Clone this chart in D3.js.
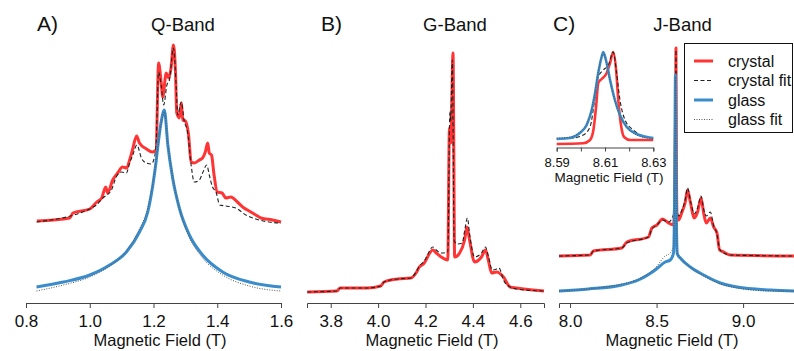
<!DOCTYPE html>
<html><head><meta charset="utf-8">
<script src="https://cdn.jsdelivr.net/npm/d3@7"></script>
<style>
body{margin:0;background:#fff}
svg{display:block}
text{font-family:"Liberation Sans",Arial,Helvetica,sans-serif;fill:#111}
</style>
</head><body>
<svg id="c" width="794" height="351"></svg>
<script>
// ---------- DATA (field in T, intensity in arbitrary units) ----------
// Panel A: Q-Band
const qCrystal = [[0.834,75],[0.9375,78],[0.947,83],[1.0,87],[1.022,94],[1.0375,98],[1.05,109],[1.056,103],[1.072,116],[1.0875,123],[1.103,129],[1.116,128],[1.125,136],[1.134,146],[1.147,160],[1.156,153],[1.178,147],[1.197,144],[1.208,146],[1.216,233],[1.224,214],[1.229,199],[1.24,223],[1.248,218],[1.255,228],[1.2625,251],[1.269,224],[1.273,183],[1.281,178],[1.287,193],[1.292,176],[1.30,175],[1.31,161],[1.318,134],[1.328,133],[1.344,136],[1.354,138],[1.3625,144],[1.37,153],[1.375,143],[1.382,141],[1.39,121],[1.40,104],[1.415,103],[1.427,98],[1.443,99],[1.463,94],[1.484,88],[1.50,85],[1.521,81],[1.537,78],[1.573,76],[1.6,74]];
const qCrystalFit = [[0.833,74],[1.005,88],[1.021,91],[1.041,98],[1.068,106],[1.083,119],[1.099,124],[1.115,123],[1.125,133],[1.135,141],[1.148,151],[1.162,138],[1.177,133],[1.193,132],[1.203,139],[1.208,151],[1.216,224],[1.224,211],[1.232,191],[1.242,211],[1.25,216],[1.2625,248],[1.271,211],[1.276,181],[1.287,194],[1.297,174],[1.307,164],[1.318,131],[1.328,114],[1.344,116],[1.354,123],[1.367,131],[1.375,121],[1.385,109],[1.396,104],[1.408,91],[1.427,90],[1.458,88],[1.49,81],[1.521,77],[1.5625,74],[1.6,73]];
const qGlass = [[0.833,9],[0.917,14],[1.0,21],[1.0625,31],[1.115,44],[1.156,64],[1.182,84],[1.198,111],[1.208,134],[1.213,148],[1.224,174],[1.234,186],[1.245,151],[1.26,118],[1.281,88],[1.3125,61],[1.354,41],[1.417,24],[1.5,14],[1.6,9]];
const qGlassFit = [[0.833,5],[0.917,11],[1.0,19],[1.0625,30],[1.115,45],[1.156,67],[1.182,88],[1.198,113],[1.213,148],[1.224,172],[1.234,184],[1.245,152],[1.26,120],[1.281,88],[1.3125,59],[1.354,38],[1.417,21],[1.5,10],[1.6,5]];
const qTicks = [0.8,1.0,1.2,1.4,1.6];

// Panel B: G-Band
const gCrystal = [[3.701,4],[3.826,5],[3.840,8],[3.954,8],[4.011,10],[4.025,14],[4.082,17],[4.138,18],[4.160,23],[4.174,29],[4.195,33],[4.202,36],[4.231,46],[4.245,43],[4.266,39],[4.294,36],[4.301,168],[4.307,153],[4.316,243],[4.323,39],[4.344,43],[4.365,56],[4.375,69],[4.386,56],[4.407,34],[4.436,39],[4.453,46],[4.465,36],[4.479,23],[4.50,24],[4.529,19],[4.557,9],[4.585,8],[4.70,5]];
const gCrystalFit = [[3.701,4],[3.826,5],[3.840,8],[3.954,8],[4.011,10],[4.025,14],[4.082,17],[4.138,18],[4.160,24],[4.174,30],[4.195,35],[4.202,38],[4.231,49],[4.245,46],[4.266,43],[4.294,44],[4.303,184],[4.306,175],[4.313,236],[4.321,55],[4.336,52],[4.355,53],[4.365,65],[4.377,78],[4.386,62],[4.407,39],[4.436,43],[4.453,49],[4.465,40],[4.482,26],[4.50,27],[4.51,28],[4.529,16],[4.557,9],[4.585,7],[4.70,5]];
const gTicks = [3.8,4.0,4.2,4.4,4.6];

// Panel C: J-Band
const jCrystal = [[7.936,40],[8.116,41],[8.135,45],[8.299,48],[8.328,54],[8.453,59],[8.473,68],[8.502,71],[8.534,77],[8.569,73],[8.598,71],[8.604,90],[8.607,140],[8.610,185],[8.612,248],[8.615,120],[8.618,82],[8.627,76],[8.647,84],[8.666,94],[8.679,106],[8.695,94],[8.718,78],[8.737,84],[8.757,98],[8.772,83],[8.787,73],[8.811,78],[8.830,69],[8.849,63],[8.864,46],[8.888,44],[8.926,41],[9.3,40]];
const jCrystalFit = [[7.936,40],[8.116,41],[8.135,45],[8.299,48],[8.328,53],[8.453,59],[8.473,67],[8.502,71],[8.534,76],[8.569,74],[8.590,78],[8.600,84],[8.605,110],[8.609,170],[8.612,246],[8.615,140],[8.618,90],[8.627,80],[8.647,86],[8.666,97],[8.679,108],[8.695,96],[8.718,82],[8.737,88],[8.757,100],[8.772,87],[8.787,80],[8.811,84],[8.830,70],[8.849,62],[8.864,47],[8.888,43],[8.926,41],[9.3,40]];
const jGlass = [[7.936,5],[8.106,7],[8.299,11],[8.395,16],[8.492,26],[8.550,34],[8.579,36],[8.598,43],[8.603,80],[8.606,150],[8.609,221],[8.612,150],[8.615,70],[8.620,42],[8.637,38],[8.695,29],[8.772,21],[8.869,13],[8.965,9],[9.158,6],[9.3,5]];
const jGlassFit = [[7.936,5],[8.106,7],[8.299,12],[8.395,17],[8.492,28],[8.550,40],[8.579,43],[8.598,50],[8.603,82],[8.606,150],[8.609,219],[8.612,150],[8.615,70],[8.620,43],[8.637,38],[8.695,29],[8.772,20],[8.869,12],[8.965,8],[9.158,5],[9.3,5]];
const jTicks = [8.0,8.5,9.0];

// Inset (J-Band, zoom on the central line)
const insetCrystal = [[8.590,4],[8.601,4.7],[8.6038,8],[8.6052,18],[8.6063,41],[8.6072,65],[8.6086,69],[8.6107,75],[8.6121,85],[8.6134,96],[8.6146,78],[8.6155,48],[8.6165,25],[8.6179,11],[8.6204,8],[8.63,8]];
const insetCrystalFit = [[8.590,9],[8.5969,10],[8.601,13],[8.6038,21],[8.6059,51],[8.6072,71],[8.6093,78],[8.6114,83],[8.6134,96],[8.6148,75],[8.6162,48],[8.6183,28],[8.6217,18],[8.6259,12],[8.63,10]];
const insetGlass = [[8.590,9],[8.5955,10],[8.5996,15],[8.6024,23],[8.6045,38],[8.6059,55],[8.6072,75],[8.6086,91],[8.6093,96],[8.6104,88],[8.6121,68],[8.6141,48],[8.6162,33],[8.619,21],[8.6231,14],[8.63,10]];
const insetGlassFit = [[8.590,10],[8.5955,11],[8.5996,16],[8.6024,24],[8.6045,39],[8.6059,56],[8.6072,76],[8.6086,91],[8.6093,95],[8.6104,87],[8.6121,67],[8.6141,47],[8.6162,32],[8.619,21],[8.6231,13],[8.63,9]];
const insetTicks = [8.59,8.60,8.61,8.62,8.63];
const insetTickLabels = ["8.59","","8.61","","8.63"];

const panelLabels = ["A)","B)","C)"];
const panelTitles = ["Q-Band","G-Band","J-Band"];
const axisTitle = "Magnetic Field (T)";
const legendLabels = ["crystal","crystal fit","glass","glass fit"];

// ---------- STYLE ----------
const RED = "#ff3535", BLUE = "#3a8ccb";
const styles = {
  crystal:    {stroke: RED,   width: 3,   dash: null},
  crystalFit: {stroke: "#222",width: 1.1, dash: "4,2.5"},
  glass:      {stroke: BLUE,  width: 3,   dash: null},
  glassFit:   {stroke: "#555",width: 1,   dash: "1,1.5"}
};

const svg = d3.select("#c");
const AXIS_Y = 303;
const yMain = d3.scaleLinear().domain([0, 256]).range([296, 40]);

function drawSeries(g, data, x, y, st) {
  const line = d3.line().x(d => x(d[0])).y(d => y(d[1])).curve(d3.curveMonotoneX);
  g.append("path").datum(data)
    .attr("d", line)
    .attr("fill", "none")
    .attr("stroke", st.stroke)
    .attr("stroke-width", st.width)
    .attr("stroke-linejoin", "round")
    .attr("stroke-dasharray", st.dash);
}

function drawAxis(x, ticks, fmt, center) {
  const ax = d3.axisBottom(x).tickValues(ticks).tickFormat(fmt)
    .tickSizeOuter(0).tickSize(5).tickPadding(7);
  const g = svg.append("g").attr("transform", `translate(0,${AXIS_Y})`).call(ax);
  g.select(".domain").attr("stroke", "#444");
  g.selectAll(".tick line").attr("stroke", "#444");
  g.selectAll(".tick text").attr("font-size", 17).attr("fill", "#111")
    .attr("font-family", '"Liberation Sans",Arial,sans-serif');
  svg.append("text").attr("x", center).attr("y", 346)
    .attr("text-anchor", "middle").attr("font-size", 16.5).text(axisTitle);
}

const panels = [
  {dom:[0.8,1.6], rng:[26,281], ticks:qTicks, fmt:d3.format(".1f"), center:160,
   labelX:37, titleX:183, series:[[qCrystal,"crystal"],[qCrystalFit,"crystalFit"],[qGlass,"glass"],[qGlassFit,"glassFit"]]},
  {dom:[3.7,4.7], rng:[307,544], ticks:gTicks, fmt:d3.format(".1f"), center:432,
   labelX:321, titleX:455, series:[[gCrystal,"crystal"],[gCrystalFit,"crystalFit"]]},
  {dom:[7.936,9.3], rng:[559,795], ticks:jTicks, fmt:d3.format(".1f"), center:672,
   labelX:553, titleX:682.5, series:[[jCrystal,"crystal"],[jCrystalFit,"crystalFit"],[jGlass,"glass"],[jGlassFit,"glassFit"]]}
];

panels.forEach((p, i) => {
  const x = d3.scaleLinear().domain(p.dom).range(p.rng);
  drawAxis(x, p.ticks, p.fmt, p.center);
  const g = svg.append("g");
  p.series.forEach(([data, key]) => drawSeries(g, data, x, yMain, styles[key]));
  svg.append("text").attr("x", p.labelX).attr("y", 31).attr("font-size", 21).text(panelLabels[i]);
  svg.append("text").attr("x", p.titleX).attr("y", 31).attr("text-anchor", "middle")
    .attr("font-size", 18.5).text(panelTitles[i]);
});

// ---------- INSET ----------
const xIn = d3.scaleLinear().domain([8.59, 8.63]).range([556.7, 653.3]);
const yIn = d3.scaleLinear().domain([0, 100]).range([148, 48]);
const INSET_Y = 147.5;
const gIn = svg.append("g");
[[insetCrystal,"crystal"],[insetCrystalFit,"crystalFit"],[insetGlass,"glass"],[insetGlassFit,"glassFit"]]
  .forEach(([data, key]) => drawSeries(gIn, data, xIn, yIn, Object.assign({}, styles[key], {width: key==="crystal"||key==="glass" ? 2.6 : styles[key].width})));
const axIn = d3.axisBottom(xIn).tickValues(insetTicks)
  .tickFormat((d, i) => insetTickLabels[i]).tickSizeOuter(0).tickSize(4).tickPadding(6);
const gAxIn = svg.append("g").attr("transform", `translate(0,${INSET_Y})`).call(axIn);
gAxIn.select(".domain").attr("stroke", "#444");
gAxIn.selectAll(".tick line").attr("stroke", "#444");
gAxIn.selectAll(".tick text").attr("font-size", 13).attr("fill", "#111")
  .attr("font-family", '"Liberation Sans",Arial,sans-serif');
svg.append("text").attr("x", 609).attr("y", 181.5).attr("text-anchor", "middle")
  .attr("font-size", 13.5).text(axisTitle);

// ---------- LEGEND ----------
const lg = svg.append("g");
lg.append("rect").attr("x", 684.5).attr("y", 43.5).attr("width", 108).attr("height", 89)
  .attr("fill", "#fff").attr("stroke", "#111").attr("stroke-width", 1);
const legendKeys = ["crystal","crystalFit","glass","glassFit"];
const legendRows = d3.scalePoint().domain(legendKeys).range([61, 119.5]);
legendKeys.forEach((k, i) => {
  const st = styles[k];
  const yy = legendRows(k);
  lg.append("line").attr("x1", 694).attr("x2", 713).attr("y1", yy).attr("y2", yy)
    .attr("stroke", st.stroke).attr("stroke-width", st.width).attr("stroke-dasharray", st.dash);
  lg.append("text").attr("x", 728).attr("y", yy).attr("dy", "0.35em")
    .attr("font-size", 16).text(legendLabels[i]);
});
</script>
</body></html>
